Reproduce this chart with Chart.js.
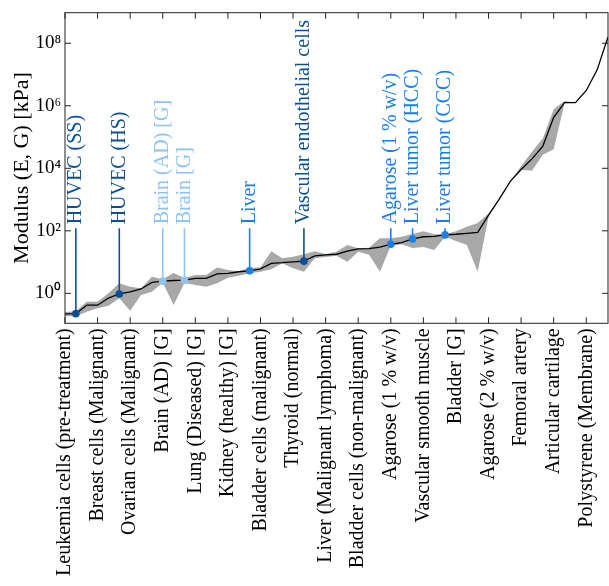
<!DOCTYPE html>
<html>
<head>
<meta charset="utf-8">
<script src="https://cdn.jsdelivr.net/npm/chart.js@4.4.1/dist/chart.umd.min.js"></script>
<style>
  html, body { margin: 0; padding: 0; background: #fff; overflow: hidden; width: 609px; height: 586px; }
  #wrap { position: relative; width: 612px; height: 586px; }
</style>
</head>
<body>
<div id="wrap"><canvas id="c" width="612" height="586"></canvas></div>
<script>
// Sample names shown on the x axis (every third sample carries a label)
const axisLabels = [
  'Leukemia cells (pre-treatment)', 'Breast cells (Malignant)', 'Ovarian cells (Malignant)',
  'Brain (AD) [G]', 'Lung (Diseased) [G]', 'Kidney (healthy) [G]', 'Bladder cells (malignant)',
  'Thyroid (normal)', 'Liver (Malignant lymphoma)', 'Bladder cells (non-malignant)',
  'Agarose (1 % w/v)', 'Vascular smooth muscle', 'Bladder [G]', 'Agarose (2 % w/v)',
  'Femoral artery', 'Articular cartilage', 'Polystyrene (Membrane)'
];
const labelledSamples = [0, 3, 6, 9, 12, 15, 18, 21, 24, 27, 30, 33, 36, 39, 42, 45, 48];

// Modulus per sample [kPa], sorted ascending: typical value and reported range
const modulus = [
  0.219, 0.224, 0.417, 0.417, 0.708, 0.955, 1.12, 1.38, 2.24, 2.45,
  2.57, 2.63, 3.02, 3.02, 4.17, 4.37, 4.90, 5.25, 6.03, 9.12,
  9.55, 10.2, 10.7, 15.8, 17.0, 17.8, 22.4, 26.3, 26.9, 30.2,
  37.2, 41.7, 55.0, 64.6, 66.1, 74.1, 77.6, 83.2, 89.1, 316,
  1047, 3800, 9120, 19950, 51300, 427000, 1260000, 1260000, 3090000, 14100000,
  158000000
];
const modulusHigh = [
  0.251, 0.269, 0.537, 0.537, 1.0, 2.09, 1.62, 1.45, 3.39, 2.82,
  4.47, 3.09, 3.89, 3.89, 6.76, 5.62, 5.13, 6.61, 6.76, 22.4,
  13.2, 14.8, 17.8, 22.4, 18.2, 21.4, 35.5, 27.5, 28.8, 57.5,
  57.5, 64.6, 79.4, 97.7, 77.6, 77.6, 97.7, 135, 178, 355,
  1047, 3800, 11750, 33900, 91200, 776000, 1410000, 1260000, 3090000, 14100000,
  158000000
];
const modulusLow = [
  0.186, 0.186, 0.257, 0.331, 0.398, 0.692, 0.275, 0.89, 1.12, 2.24,
  0.427, 2.14, 1.86, 1.62, 2.09, 3.16, 3.63, 4.37, 4.90, 5.89,
  9.12, 6.31, 4.90, 13.2, 14.5, 15.8, 10.2, 21.4, 17.0, 4.90,
  33.1, 37.2, 28.2, 30.2, 24.5, 64.6, 46.8, 35.5, 4.90, 282,
  1047, 3800, 8910, 8320, 26900, 40700, 1200000, 1260000, 3090000, 14100000,
  158000000
];

// Highlighted samples
const highlightNames = [
  'HUVEC (SS)', 'HUVEC (HS)', 'Brain (AD) [G]', 'Brain [G]', 'Liver',
  'Vascular endothelial cells', 'Agarose (1 % w/v)', 'Liver tumor (HCC)', 'Liver tumor (CCC)'
];
const highlightSamples = [1, 5, 9, 11, 17, 22, 30, 32, 35];
const highlightKind = ['endothelial', 'endothelial', 'brain', 'brain', 'liver', 'endothelial', 'liver', 'liver', 'liver'];

const yTickValues = [1, 1e2, 1e4, 1e6, 1e8];

const FONT = '"Liberation Serif", "Times New Roman", serif';
const kindColour = { endothelial: '#0d4f93', brain: '#8ec3f4', liver: '#1c7ee9' };
const SUP = { '-': '⁻', '0': '⁰', '1': '¹', '2': '²', '3': '³', '4': '⁴', '5': '⁵', '6': '⁶', '7': '⁷', '8': '⁸', '9': '⁹' };

const pts = arr => arr.map((v, i) => ({ x: i, y: v }));
const LABEL_FOOT = 120; // modulus level where the callout lines end

const callouts = {
  id: 'callouts',
  afterDatasetDraw(chart, args) {
    if (args.index !== 1) return;
    const { ctx, scales: { x, y } } = chart;
    const top = y.getPixelForValue(LABEL_FOOT);
    ctx.save();
    highlightSamples.forEach((s, k) => {
      const px = x.getPixelForValue(s);
      const py = y.getPixelForValue(modulus[s]);
      const col = kindColour[highlightKind[k]];
      ctx.strokeStyle = col;
      ctx.lineWidth = 1.6;
      ctx.beginPath();
      ctx.moveTo(px, py);
      ctx.lineTo(px, top);
      ctx.stroke();
      ctx.save();
      ctx.translate(px, top - 4);
      ctx.rotate(-Math.PI / 2);
      ctx.font = '20px ' + FONT;
      ctx.fillStyle = col;
      ctx.textAlign = 'left';
      ctx.textBaseline = 'middle';
      ctx.fillText(highlightNames[k], 0, 0);
      ctx.restore();
    });
    ctx.restore();
  }
};

const frame = {
  id: 'frame',
  afterDraw(chart) {
    const { ctx, chartArea: a, scales: { x, y } } = chart;
    ctx.save();
    ctx.strokeStyle = '#222';
    ctx.lineWidth = 1;
    ctx.strokeRect(a.left, a.top, a.right - a.left, a.bottom - a.top);
    const L = 6;
    ctx.beginPath();
    labelledSamples.forEach(s => {
      const px = x.getPixelForValue(s);
      ctx.moveTo(px, a.bottom); ctx.lineTo(px, a.bottom - L);
      ctx.moveTo(px, a.top); ctx.lineTo(px, a.top + L);
    });
    yTickValues.forEach(v => {
      const py = y.getPixelForValue(v);
      ctx.moveTo(a.left, py); ctx.lineTo(a.left + L, py);
      ctx.moveTo(a.right, py); ctx.lineTo(a.right - L, py);
    });
    ctx.stroke();
    ctx.restore();
  }
};

const noEdgePadding = (scale) => {
  scale.paddingLeft = 0; scale.paddingRight = 0;
  scale.paddingTop = 0; scale.paddingBottom = 0;
};

new Chart(document.getElementById('c'), {
  type: 'line',
  data: {
    datasets: [
      {
        label: 'highlighted',
        data: highlightSamples.map(s => ({ x: s, y: modulus[s] })),
        showLine: false,
        pointRadius: 3.8,
        pointBorderWidth: 0,
        pointBackgroundColor: highlightKind.map(k => kindColour[k]),
        pointBorderColor: highlightKind.map(k => kindColour[k])
      },
      {
        label: 'modulus',
        data: pts(modulus),
        borderColor: '#000',
        borderWidth: 1.3,
        pointRadius: 0,
        tension: 0,
        fill: false
      },
      {
        label: 'upper',
        data: pts(modulusHigh),
        borderColor: 'rgba(0,0,0,0)',
        borderWidth: 0,
        pointRadius: 0,
        tension: 0,
        backgroundColor: '#a8a8a8',
        fill: '+1'
      },
      {
        label: 'lower',
        data: pts(modulusLow),
        borderColor: 'rgba(0,0,0,0)',
        borderWidth: 0,
        pointRadius: 0,
        tension: 0,
        fill: false
      }
    ]
  },
  options: {
    responsive: false,
    animation: false,
    events: [],
    layout: { padding: { top: 12.7, right: 2.5, left: 0, bottom: 0 } },
    plugins: { legend: { display: false }, tooltip: { enabled: false } },
    scales: {
      x: {
        type: 'linear',
        min: 0,
        max: 50,
        grid: { display: false, drawTicks: false },
        border: { display: false },
        ticks: {
          autoSkip: false,
          minRotation: 90,
          maxRotation: 90,
          padding: 5,
          color: '#000',
          font: { family: FONT, size: 20 },
          callback: (v) => {
            const k = labelledSamples.indexOf(v);
            return k >= 0 ? axisLabels[k] : '';
          }
        },
        afterBuildTicks: (scale) => { scale.ticks = labelledSamples.map(v => ({ value: v })); },
        afterFit: (scale) => { scale.height = 262.7; noEdgePadding(scale); }
      },
      y: {
        type: 'logarithmic',
        min: 0.11,
        max: 9.5e8,
        grid: { display: false, drawTicks: false },
        border: { display: false },
        ticks: {
          padding: 4,
          color: '#000',
          font: { family: FONT, size: 19 },
          callback: (v) => '10' + String(Math.round(Math.log10(v))).split('').map(c => SUP[c]).join('')
        },
        afterBuildTicks: (scale) => { scale.ticks = yTickValues.map(v => ({ value: v })); },
        afterFit: (scale) => { scale.width = 65; noEdgePadding(scale); },
        title: {
          display: true,
          text: 'Modulus (E, G) [kPa]',
          color: '#000',
          font: { family: FONT, size: 22 },
          padding: { top: 9, bottom: 0 }
        }
      }
    }
  },
  plugins: [callouts, frame]
});
</script>
</body>
</html>
